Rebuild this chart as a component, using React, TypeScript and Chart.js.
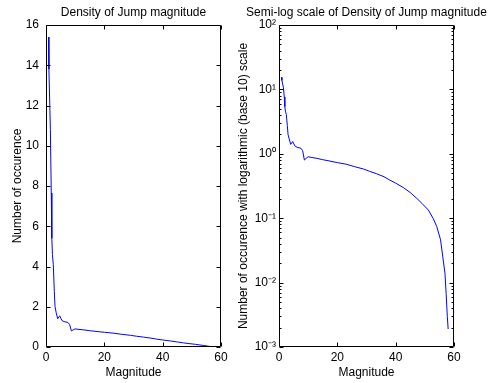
import React, { useEffect, useRef } from 'react';
import { Chart, registerables } from 'chart.js';

Chart.register(...registerables);

// ---- data ----
const magnitude = [0.85, 1.0, 1.5, 1.8, 2.0, 2.2, 2.5, 2.85, 3.1, 3.5, 4.0, 4.7, 5.1, 5.6, 6.5, 7.5, 8.1, 8.7, 9.3, 10, 11, 13, 15, 17.5, 20, 23, 26, 29, 31, 33.5, 36, 38, 40, 42.6, 45, 47.2, 49, 51.2, 52.8, 54.1, 55.4, 56.3, 56.9, 57.3, 57.7, 58.0];
const occurrence = [15.4, 13.8, 10.8, 7.65, 5.4, 4.6, 4.1, 2.75, 2.0, 1.7, 1.4, 1.55, 1.42, 1.3, 1.25, 1.22, 1.12, 0.8, 0.85, 0.9, 0.88, 0.85, 0.81, 0.77, 0.73, 0.69, 0.63, 0.58, 0.535, 0.49, 0.44, 0.39, 0.35, 0.30, 0.25, 0.204, 0.17, 0.134, 0.1, 0.074, 0.046, 0.0224, 0.014, 0.0068, 0.003, 0.0019];

const xTickValues = [0, 20, 40, 60];
const linearYTicks = [0, 2, 4, 6, 8, 10, 12, 14, 16];
const logYTicks = [0.001, 0.01, 0.1, 1, 10, 100];
const logYTickLabels = ['10⁻³', '10⁻²', '10⁻¹', '10⁰', '10¹', '10²'];

const leftTitle = 'Density of Jump magnitude';
const rightTitle = 'Semi-log scale of Density of Jump magnitude';
const xTitle = 'Magnitude';
const leftYTitle = 'Number of occurence';
const rightYTitle = 'Number of occurence with logarithmic (base 10) scale';

const FONT = '"Liberation Sans", Arial, Helvetica, sans-serif';

const framePlugin = {
  id: 'frame',
  afterDraw(chart: any, _args: any, opts: any) {
    const { ctx, chartArea: a, scales } = chart;
    const L = Math.round(a.left) + 0.5;
    const R = Math.round(a.right) - 0.5;
    const T = Math.round(a.top) + 0.5;
    const B = Math.round(a.bottom) - 0.5;
    ctx.save();
    ctx.strokeStyle = '#000';
    ctx.lineWidth = 1;
    ctx.beginPath();
    ctx.rect(L, T, R - L, B - T);
    const major = 4;
    const minor = 2;
    scales.x.ticks.forEach((t: any) => {
      const px = Math.round(scales.x.getPixelForValue(t.value)) + 0.5;
      ctx.moveTo(px, B); ctx.lineTo(px, B - major);
      ctx.moveTo(px, T); ctx.lineTo(px, T + major);
    });
    scales.y.ticks.forEach((t: any) => {
      const py = Math.round(scales.y.getPixelForValue(t.value)) + 0.5;
      ctx.moveTo(L, py); ctx.lineTo(L + major, py);
      ctx.moveTo(R, py); ctx.lineTo(R - major, py);
    });
    if (opts.logMinor) {
      for (let d = -3; d < 2; d++) {
        for (let k = 2; k <= 9; k++) {
          const v = k * Math.pow(10, d);
          const py = Math.round(scales.y.getPixelForValue(v)) + 0.5;
          ctx.moveTo(L, py); ctx.lineTo(L + minor, py);
          ctx.moveTo(R, py); ctx.lineTo(R - minor, py);
        }
      }
    }
    ctx.stroke();
    ctx.fillStyle = '#000';
    ctx.font = `12px ${FONT}`;
    ctx.textAlign = 'center';
    ctx.textBaseline = 'middle';
    ctx.fillText(opts.text, (a.left + a.right) / 2, 12.5);
    ctx.restore();
  },
};

function makeConfig(log: boolean): any {
  const points = magnitude.map((m, i) => ({ x: m, y: occurrence[i] }));
  return {
    type: 'line',
    data: {
      datasets: [
        {
          data: points,
          borderColor: '#0000ff',
          borderWidth: 1,
          pointRadius: 0,
          tension: 0,
          fill: false,
        },
      ],
    },
    plugins: [framePlugin],
    options: {
      responsive: false,
      animation: false,
      devicePixelRatio: 1,
      layout: { autoPadding: false, padding: { top: 25, left: 0, right: log ? 35 : 14, bottom: 0 } },
      plugins: {
        legend: { display: false },
        tooltip: { enabled: false },
        title: { display: false },
        frame: { text: log ? rightTitle : leftTitle, logMinor: log },
      },
      scales: {
        x: {
          type: 'linear',
          min: 0,
          max: 60,
          grid: { display: false, drawTicks: false },
          border: { display: false },
          afterBuildTicks: (s: any) => { s.ticks = xTickValues.map((v) => ({ value: v })); },
          ticks: { padding: 3, color: '#000', font: { family: FONT, size: 12 }, maxRotation: 0, autoSkip: false },
          title: { display: true, text: xTitle, color: '#000', font: { family: FONT, size: 12 }, padding: { top: 0, bottom: 3 } },
          afterFit: (s: any) => { s.height = 36; },
        },
        y: log
          ? {
              type: 'logarithmic',
              min: 0.001,
              max: 100,
              grid: { display: false, drawTicks: false },
              border: { display: false },
              afterBuildTicks: (s: any) => { s.ticks = logYTicks.map((v) => ({ value: v })); },
              ticks: {
                padding: 3,
                color: '#000',
                font: { family: FONT, size: 12 },
                autoSkip: false,
                callback: (v: number) => {
                  const i = logYTicks.findIndex((t) => Math.abs(Math.log10(t) - Math.log10(v)) < 1e-6);
                  return i >= 0 ? logYTickLabels[i] : '';
                },
              },
              title: { display: true, text: rightYTitle, color: '#000', font: { family: FONT, size: 12 }, padding: { top: 6, bottom: 0 } },
              afterFit: (s: any) => { s.width = 49; },
            }
          : {
              type: 'linear',
              min: 0,
              max: 16,
              grid: { display: false, drawTicks: false },
              border: { display: false },
              afterBuildTicks: (s: any) => { s.ticks = linearYTicks.map((v) => ({ value: v })); },
              ticks: { padding: 7, color: '#000', font: { family: FONT, size: 12 }, autoSkip: false },
              title: { display: true, text: leftYTitle, color: '#000', font: { family: FONT, size: 12 }, padding: { top: 10, bottom: 0 } },
              afterFit: (s: any) => { s.width = 46; },
            },
      },
    },
  };
}

function ChartCanvas({ log, left, width }: { log: boolean; left: number; width: number }) {
  const ref = useRef<HTMLCanvasElement | null>(null);
  useEffect(() => {
    if (!ref.current) return;
    const chart = new Chart(ref.current, makeConfig(log));
    return () => chart.destroy();
  }, [log]);
  return (
    <canvas
      ref={ref}
      width={width}
      height={383}
      style={{ position: 'absolute', left, top: 0, width, height: 383 }}
    />
  );
}

export default function App() {
  return (
    <div style={{ position: 'absolute', left: 0, top: 0, width: 489, height: 383, background: '#fff', overflow: 'hidden' }}>
      <ChartCanvas log={false} left={0} width={235} />
      <ChartCanvas log={true} left={230} width={259} />
    </div>
  );
}
